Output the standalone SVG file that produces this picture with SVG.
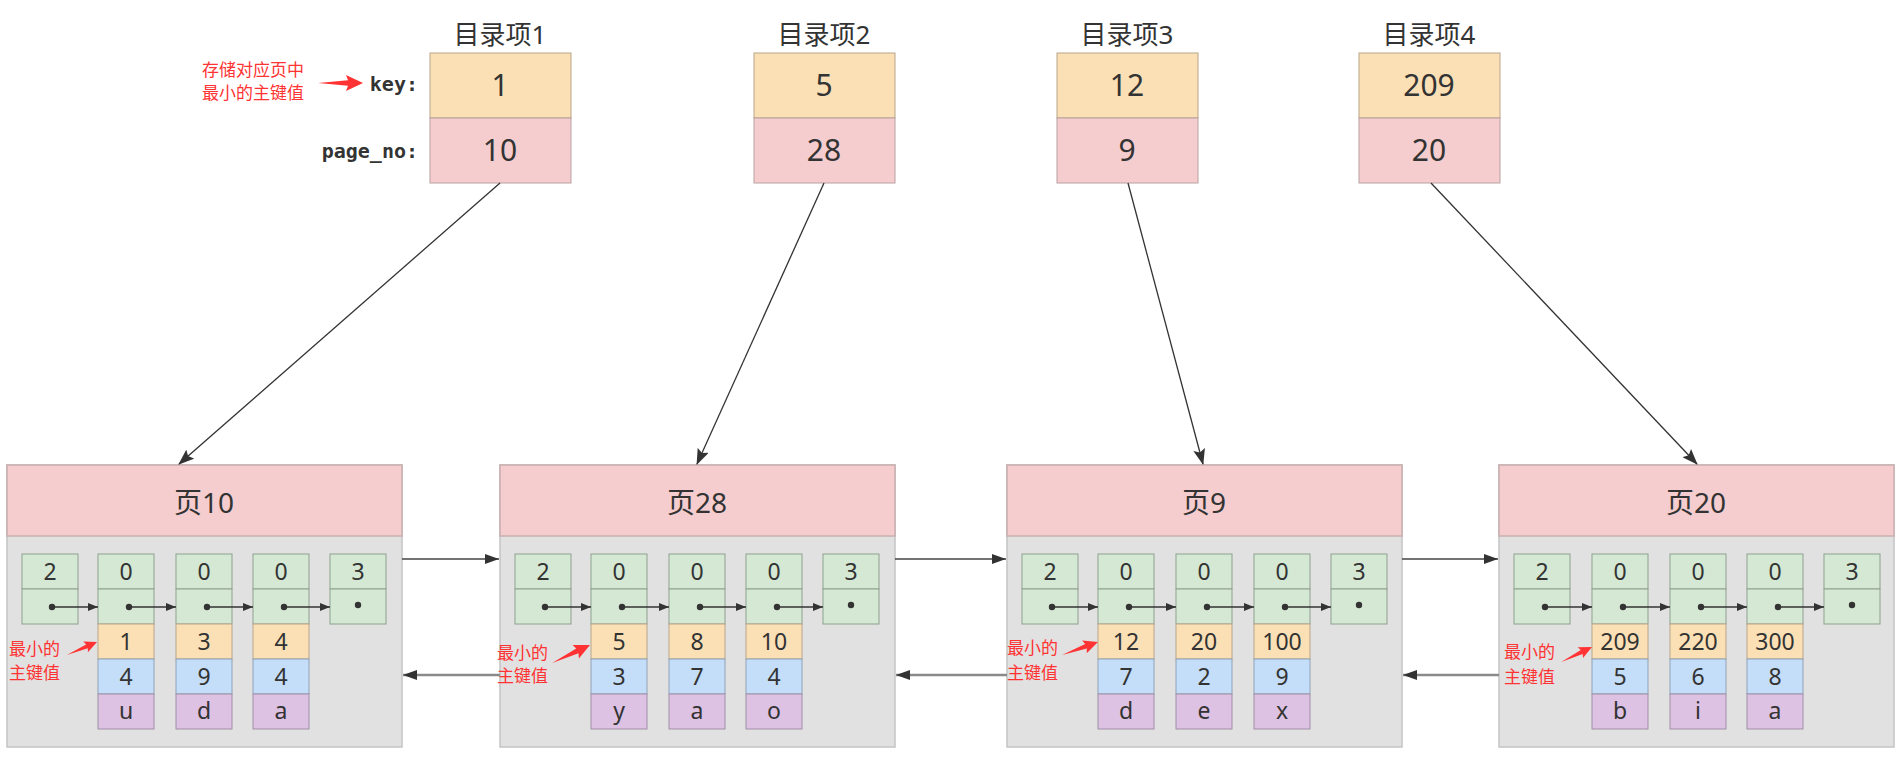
<svg xmlns="http://www.w3.org/2000/svg" xmlns:xlink="http://www.w3.org/1999/xlink" width="1901" height="765" viewBox="0 0 1901 765">
<style>
text{font-family:"Noto Sans","Noto Sans CJK SC",sans-serif;fill:#333;}
.title{font-size:26px;text-anchor:middle;}
.big{font-size:30px;text-anchor:middle;}
.hdr{font-size:28px;text-anchor:middle;}
.cell{font-size:23px;text-anchor:middle;}
.mono{font-family:"DejaVu Sans Mono","Liberation Mono",monospace;font-weight:bold;font-size:20px;text-anchor:end;fill:#333;}
.red{font-family:"Noto Sans CJK SC",sans-serif;font-size:17px;fill:#ff3333;}
.yel{fill:#fbe0b6;stroke:#b9a58a;stroke-width:1;}
.pnk{fill:#f5cdce;stroke:#b8a0a0;stroke-width:1;}
.grn{fill:#d5e8d4;stroke:#8fa18e;stroke-width:1;}
.blu{fill:#c4ddf8;stroke:#8fa2b8;stroke-width:1;}
.pur{fill:#ddc2e3;stroke:#a08fa6;stroke-width:1;}
.bg{fill:#e1e1e1;stroke:#c4c4c4;stroke-width:1.5;}
.hd{fill:#f5cdce;stroke:#c8b0b0;stroke-width:1.5;}
.ln{stroke:#333;stroke-width:1.3;fill:none;}
.fwd{stroke:#444;stroke-width:1.6;fill:none;}
.bwd{stroke:#8a8a8a;stroke-width:2.5;fill:none;}
.dl{stroke:#333;stroke-width:1.5;fill:none;}
.dot{fill:#333;}
.ra{fill:#ff3333;}
</style>
<defs>
<marker id="ah" markerUnits="userSpaceOnUse" markerWidth="16" markerHeight="12" refX="15" refY="6" orient="auto"><path d="M0,0 L16,6 L0,12 L3,6 Z" fill="#333"/></marker>
<marker id="ahs" markerUnits="userSpaceOnUse" markerWidth="10" markerHeight="8" refX="10" refY="4" orient="auto"><path d="M0,0 L10,4 L0,8 Z" fill="#333"/></marker>
<marker id="ahf" markerUnits="userSpaceOnUse" markerWidth="14" markerHeight="10" refX="14" refY="5" orient="auto"><path d="M0,0 L14,5 L0,10 Z" fill="#333"/></marker>
<marker id="ahb" markerUnits="userSpaceOnUse" markerWidth="14" markerHeight="10" refX="14" refY="5" orient="auto"><path d="M0,0 L14,5 L0,10 Z" fill="#333"/></marker>
<path id="redArrow" d="M-45,0 L-15,-2.8 L-17,-8 L0,0 L-17,8 L-15,2.8 Z"/>
</defs>

<!-- directory entries -->
<g id="dir1">
<text class="title" x="500" y="44">目录项1</text>
<rect class="yel" x="430" y="53" width="141" height="65"/>
<rect class="pnk" x="430" y="118" width="141" height="65"/>
<text class="big" x="500" y="96">1</text>
<text class="big" x="500" y="161">10</text>
</g>
<g id="dir-labels">
<text class="mono" x="418" y="91">key:</text>
<text class="mono" x="418" y="158">page_no:</text>
<text class="red" x="202" y="76">存储对应页中</text>
<text class="red" x="202" y="99">最小的主键值</text>
<use xlink:href="#redArrow" class="ra" transform="translate(363,83)"/>
</g>
<g id="dir2">
<text class="title" x="824" y="44">目录项2</text>
<rect class="yel" x="754" y="53" width="141" height="65"/>
<rect class="pnk" x="754" y="118" width="141" height="65"/>
<text class="big" x="824" y="96">5</text>
<text class="big" x="824" y="161">28</text>
</g>
<g id="dir3">
<text class="title" x="1127" y="44">目录项3</text>
<rect class="yel" x="1057" y="53" width="141" height="65"/>
<rect class="pnk" x="1057" y="118" width="141" height="65"/>
<text class="big" x="1127" y="96">12</text>
<text class="big" x="1127" y="161">9</text>
</g>
<g id="dir4">
<text class="title" x="1429" y="44">目录项4</text>
<rect class="yel" x="1359" y="53" width="141" height="65"/>
<rect class="pnk" x="1359" y="118" width="141" height="65"/>
<text class="big" x="1429" y="96">209</text>
<text class="big" x="1429" y="161">20</text>
</g>

<!-- page 10 -->
<g id="page10">
<rect class="bg" x="7" y="465" width="395" height="282"/>
<rect class="hd" x="7" y="465" width="395" height="71"/>
<text class="hdr" x="204" y="513">页10</text>
<rect class="grn" x="22" y="554" width="56" height="35"/><rect class="grn" x="22" y="589" width="56" height="35"/>
<rect class="grn" x="98" y="554" width="56" height="35"/><rect class="grn" x="98" y="589" width="56" height="35"/>
<rect class="yel" x="98" y="624" width="56" height="35"/><rect class="blu" x="98" y="659" width="56" height="35"/><rect class="pur" x="98" y="694" width="56" height="35"/>
<rect class="grn" x="176" y="554" width="56" height="35"/><rect class="grn" x="176" y="589" width="56" height="35"/>
<rect class="yel" x="176" y="624" width="56" height="35"/><rect class="blu" x="176" y="659" width="56" height="35"/><rect class="pur" x="176" y="694" width="56" height="35"/>
<rect class="grn" x="253" y="554" width="56" height="35"/><rect class="grn" x="253" y="589" width="56" height="35"/>
<rect class="yel" x="253" y="624" width="56" height="35"/><rect class="blu" x="253" y="659" width="56" height="35"/><rect class="pur" x="253" y="694" width="56" height="35"/>
<rect class="grn" x="330" y="554" width="56" height="35"/><rect class="grn" x="330" y="589" width="56" height="35"/>
<text class="cell" x="50" y="580">2</text><text class="cell" x="126" y="580">0</text><text class="cell" x="204" y="580">0</text><text class="cell" x="281" y="580">0</text><text class="cell" x="358" y="580">3</text>
<text class="cell" x="126" y="650">1</text><text class="cell" x="204" y="650">3</text><text class="cell" x="281" y="650">4</text>
<text class="cell" x="126" y="685">4</text><text class="cell" x="204" y="685">9</text><text class="cell" x="281" y="685">4</text>
<text class="cell" x="126" y="719">u</text><text class="cell" x="204" y="719">d</text><text class="cell" x="281" y="719">a</text>
<line class="dl" x1="52" y1="607" x2="98" y2="607" marker-end="url(#ahs)"/>
<line class="dl" x1="129" y1="607" x2="176" y2="607" marker-end="url(#ahs)"/>
<line class="dl" x1="207" y1="607" x2="253" y2="607" marker-end="url(#ahs)"/>
<line class="dl" x1="284" y1="607" x2="330" y2="607" marker-end="url(#ahs)"/>
<circle class="dot" cx="52" cy="607" r="3.2"/><circle class="dot" cx="129" cy="607" r="3.2"/><circle class="dot" cx="207" cy="607" r="3.2"/><circle class="dot" cx="284" cy="607" r="3.2"/><circle class="dot" cx="358" cy="605" r="3.2"/>
<text class="red" x="9" y="655">最小的</text>
<text class="red" x="9" y="679">主键值</text>
<use xlink:href="#redArrow" class="ra" transform="translate(97,642) rotate(-23.4) scale(0.73)"/>
</g>

<!-- page 28 -->
<g id="page28">
<rect class="bg" x="500" y="465" width="395" height="282"/>
<rect class="hd" x="500" y="465" width="395" height="71"/>
<text class="hdr" x="697" y="513">页28</text>
<rect class="grn" x="515" y="554" width="56" height="35"/><rect class="grn" x="515" y="589" width="56" height="35"/>
<rect class="grn" x="591" y="554" width="56" height="35"/><rect class="grn" x="591" y="589" width="56" height="35"/>
<rect class="yel" x="591" y="624" width="56" height="35"/><rect class="blu" x="591" y="659" width="56" height="35"/><rect class="pur" x="591" y="694" width="56" height="35"/>
<rect class="grn" x="669" y="554" width="56" height="35"/><rect class="grn" x="669" y="589" width="56" height="35"/>
<rect class="yel" x="669" y="624" width="56" height="35"/><rect class="blu" x="669" y="659" width="56" height="35"/><rect class="pur" x="669" y="694" width="56" height="35"/>
<rect class="grn" x="746" y="554" width="56" height="35"/><rect class="grn" x="746" y="589" width="56" height="35"/>
<rect class="yel" x="746" y="624" width="56" height="35"/><rect class="blu" x="746" y="659" width="56" height="35"/><rect class="pur" x="746" y="694" width="56" height="35"/>
<rect class="grn" x="823" y="554" width="56" height="35"/><rect class="grn" x="823" y="589" width="56" height="35"/>
<text class="cell" x="543" y="580">2</text><text class="cell" x="619" y="580">0</text><text class="cell" x="697" y="580">0</text><text class="cell" x="774" y="580">0</text><text class="cell" x="851" y="580">3</text>
<text class="cell" x="619" y="650">5</text><text class="cell" x="697" y="650">8</text><text class="cell" x="774" y="650">10</text>
<text class="cell" x="619" y="685">3</text><text class="cell" x="697" y="685">7</text><text class="cell" x="774" y="685">4</text>
<text class="cell" x="619" y="719">y</text><text class="cell" x="697" y="719">a</text><text class="cell" x="774" y="719">o</text>
<line class="dl" x1="545" y1="607" x2="591" y2="607" marker-end="url(#ahs)"/>
<line class="dl" x1="622" y1="607" x2="669" y2="607" marker-end="url(#ahs)"/>
<line class="dl" x1="700" y1="607" x2="746" y2="607" marker-end="url(#ahs)"/>
<line class="dl" x1="777" y1="607" x2="823" y2="607" marker-end="url(#ahs)"/>
<circle class="dot" cx="545" cy="607" r="3.2"/><circle class="dot" cx="622" cy="607" r="3.2"/><circle class="dot" cx="700" cy="607" r="3.2"/><circle class="dot" cx="777" cy="607" r="3.2"/><circle class="dot" cx="851" cy="605" r="3.2"/>
<text class="red" x="497" y="659">最小的</text>
<text class="red" x="497" y="682">主键值</text>
<use xlink:href="#redArrow" class="ra" transform="translate(590,645) rotate(-25.3) scale(0.93)"/>
</g>

<!-- page 9 -->
<g id="page9">
<rect class="bg" x="1007" y="465" width="395" height="282"/>
<rect class="hd" x="1007" y="465" width="395" height="71"/>
<text class="hdr" x="1204" y="513">页9</text>
<rect class="grn" x="1022" y="554" width="56" height="35"/><rect class="grn" x="1022" y="589" width="56" height="35"/>
<rect class="grn" x="1098" y="554" width="56" height="35"/><rect class="grn" x="1098" y="589" width="56" height="35"/>
<rect class="yel" x="1098" y="624" width="56" height="35"/><rect class="blu" x="1098" y="659" width="56" height="35"/><rect class="pur" x="1098" y="694" width="56" height="35"/>
<rect class="grn" x="1176" y="554" width="56" height="35"/><rect class="grn" x="1176" y="589" width="56" height="35"/>
<rect class="yel" x="1176" y="624" width="56" height="35"/><rect class="blu" x="1176" y="659" width="56" height="35"/><rect class="pur" x="1176" y="694" width="56" height="35"/>
<rect class="grn" x="1254" y="554" width="56" height="35"/><rect class="grn" x="1254" y="589" width="56" height="35"/>
<rect class="yel" x="1254" y="624" width="56" height="35"/><rect class="blu" x="1254" y="659" width="56" height="35"/><rect class="pur" x="1254" y="694" width="56" height="35"/>
<rect class="grn" x="1331" y="554" width="56" height="35"/><rect class="grn" x="1331" y="589" width="56" height="35"/>
<text class="cell" x="1050" y="580">2</text><text class="cell" x="1126" y="580">0</text><text class="cell" x="1204" y="580">0</text><text class="cell" x="1282" y="580">0</text><text class="cell" x="1359" y="580">3</text>
<text class="cell" x="1126" y="650">12</text><text class="cell" x="1204" y="650">20</text><text class="cell" x="1282" y="650">100</text>
<text class="cell" x="1126" y="685">7</text><text class="cell" x="1204" y="685">2</text><text class="cell" x="1282" y="685">9</text>
<text class="cell" x="1126" y="719">d</text><text class="cell" x="1204" y="719">e</text><text class="cell" x="1282" y="719">x</text>
<line class="dl" x1="1052" y1="607" x2="1098" y2="607" marker-end="url(#ahs)"/>
<line class="dl" x1="1129" y1="607" x2="1176" y2="607" marker-end="url(#ahs)"/>
<line class="dl" x1="1207" y1="607" x2="1254" y2="607" marker-end="url(#ahs)"/>
<line class="dl" x1="1285" y1="607" x2="1331" y2="607" marker-end="url(#ahs)"/>
<circle class="dot" cx="1052" cy="607" r="3.2"/><circle class="dot" cx="1129" cy="607" r="3.2"/><circle class="dot" cx="1207" cy="607" r="3.2"/><circle class="dot" cx="1285" cy="607" r="3.2"/><circle class="dot" cx="1359" cy="605" r="3.2"/>
<text class="red" x="1007" y="654">最小的</text>
<text class="red" x="1007" y="679">主键值</text>
<use xlink:href="#redArrow" class="ra" transform="translate(1098,642) rotate(-19.9) scale(0.85)"/>
</g>

<!-- page 20 -->
<g id="page20">
<rect class="bg" x="1499" y="465" width="395" height="282"/>
<rect class="hd" x="1499" y="465" width="395" height="71"/>
<text class="hdr" x="1696" y="513">页20</text>
<rect class="grn" x="1514" y="554" width="56" height="35"/><rect class="grn" x="1514" y="589" width="56" height="35"/>
<rect class="grn" x="1592" y="554" width="56" height="35"/><rect class="grn" x="1592" y="589" width="56" height="35"/>
<rect class="yel" x="1592" y="624" width="56" height="35"/><rect class="blu" x="1592" y="659" width="56" height="35"/><rect class="pur" x="1592" y="694" width="56" height="35"/>
<rect class="grn" x="1670" y="554" width="56" height="35"/><rect class="grn" x="1670" y="589" width="56" height="35"/>
<rect class="yel" x="1670" y="624" width="56" height="35"/><rect class="blu" x="1670" y="659" width="56" height="35"/><rect class="pur" x="1670" y="694" width="56" height="35"/>
<rect class="grn" x="1747" y="554" width="56" height="35"/><rect class="grn" x="1747" y="589" width="56" height="35"/>
<rect class="yel" x="1747" y="624" width="56" height="35"/><rect class="blu" x="1747" y="659" width="56" height="35"/><rect class="pur" x="1747" y="694" width="56" height="35"/>
<rect class="grn" x="1824" y="554" width="56" height="35"/><rect class="grn" x="1824" y="589" width="56" height="35"/>
<text class="cell" x="1542" y="580">2</text><text class="cell" x="1620" y="580">0</text><text class="cell" x="1698" y="580">0</text><text class="cell" x="1775" y="580">0</text><text class="cell" x="1852" y="580">3</text>
<text class="cell" x="1620" y="650">209</text><text class="cell" x="1698" y="650">220</text><text class="cell" x="1775" y="650">300</text>
<text class="cell" x="1620" y="685">5</text><text class="cell" x="1698" y="685">6</text><text class="cell" x="1775" y="685">8</text>
<text class="cell" x="1620" y="719">b</text><text class="cell" x="1698" y="719">i</text><text class="cell" x="1775" y="719">a</text>
<line class="dl" x1="1545" y1="607" x2="1592" y2="607" marker-end="url(#ahs)"/>
<line class="dl" x1="1623" y1="607" x2="1670" y2="607" marker-end="url(#ahs)"/>
<line class="dl" x1="1701" y1="607" x2="1747" y2="607" marker-end="url(#ahs)"/>
<line class="dl" x1="1778" y1="607" x2="1824" y2="607" marker-end="url(#ahs)"/>
<circle class="dot" cx="1545" cy="607" r="3.2"/><circle class="dot" cx="1623" cy="607" r="3.2"/><circle class="dot" cx="1701" cy="607" r="3.2"/><circle class="dot" cx="1778" cy="607" r="3.2"/><circle class="dot" cx="1852" cy="605" r="3.2"/>
<text class="red" x="1504" y="658">最小的</text>
<text class="red" x="1504" y="683">主键值</text>
<use xlink:href="#redArrow" class="ra" transform="translate(1592,647) rotate(-25.8) scale(0.76)"/>
</g>

<!-- connectors -->
<g id="connectors">
<line class="ln" x1="500" y1="183" x2="179" y2="464" marker-end="url(#ah)"/>
<line class="ln" x1="824" y1="183" x2="697" y2="464" marker-end="url(#ah)"/>
<line class="ln" x1="1128" y1="183" x2="1203" y2="464" marker-end="url(#ah)"/>
<line class="ln" x1="1431" y1="183" x2="1697" y2="464" marker-end="url(#ah)"/>
<line class="fwd" x1="402" y1="559" x2="499" y2="559" marker-end="url(#ahf)"/>
<line class="fwd" x1="895" y1="559" x2="1006" y2="559" marker-end="url(#ahf)"/>
<line class="fwd" x1="1402" y1="559" x2="1498" y2="559" marker-end="url(#ahf)"/>
<line class="bwd" x1="500" y1="675" x2="403" y2="675" marker-end="url(#ahb)"/>
<line class="bwd" x1="1007" y1="675" x2="896" y2="675" marker-end="url(#ahb)"/>
<line class="bwd" x1="1499" y1="675" x2="1403" y2="675" marker-end="url(#ahb)"/>
</g>
</svg>
